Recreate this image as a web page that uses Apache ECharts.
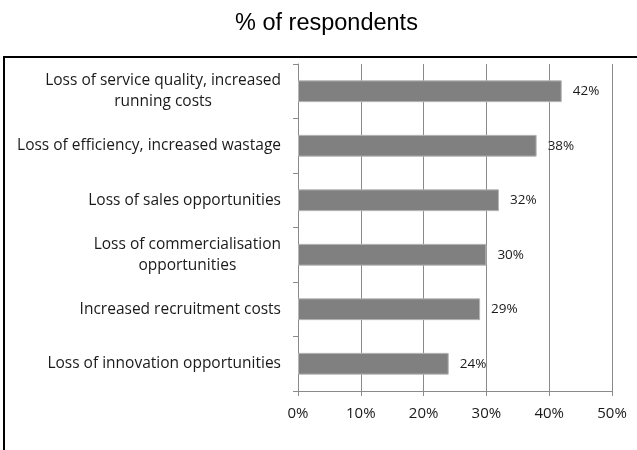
<!DOCTYPE html>
<html>
<head>
<meta charset="utf-8">
<script src="https://cdn.jsdelivr.net/npm/echarts@6/dist/echarts.min.js"></script>
<style>
  html, body { margin: 0; padding: 0; background: #fff; }
  #chart { width: 637px; height: 450px; }
</style>
</head>
<body>
<div id="chart"></div>
<script>
// Reasons reported, top to bottom
const categories = [
  'Loss of service quality, increased\nrunning costs',
  'Loss of efficiency, increased wastage',
  'Loss of sales opportunities',
  'Loss of commercialisation\nopportunities',
  'Increased recruitment costs',
  'Loss of innovation opportunities'
];
// Share of respondents (%)
const shares = [42, 38, 32, 30, 29, 24];
// Value axis range (%)
const axisMin = 0;
const axisMax = 50;
const axisStep = 10;

const labelFont = '"Open Sans", "Noto Sans", sans-serif';
const gridGray = '#8a8a8a';

const chart = echarts.init(document.getElementById('chart'), null, { renderer: 'canvas' });

chart.setOption({
  backgroundColor: '#ffffff',
  animation: false,
  title: {
    text: '% of respondents',
    left: 235,
    top: 12,
    padding: 0,
    textStyle: {
      fontFamily: '"Liberation Sans", Arial, sans-serif',
      fontSize: 23.5,
      fontWeight: 'normal',
      color: '#000'
    }
  },
  graphic: [{
    type: 'polyline',
    shape: { points: [[4, 450], [4, 57], [637, 57]] },
    style: { stroke: '#000', lineWidth: 2, fill: null },
    silent: true
  }],
  grid: { left: 298, right: 25, top: 64, bottom: 59, containLabel: false },
  xAxis: {
    type: 'value',
    min: axisMin,
    max: axisMax,
    interval: axisStep,
    axisLine: { show: true, lineStyle: { color: gridGray, width: 1 } },
    axisTick: { show: true, length: 5, lineStyle: { color: gridGray } },
    splitLine: { show: true, lineStyle: { color: gridGray, width: 1 } },
    axisLabel: {
      formatter: '{value}%',
      margin: 15,
      fontFamily: labelFont,
      fontSize: 15,
      color: '#1a1a1a'
    }
  },
  yAxis: {
    type: 'category',
    data: categories,
    inverse: true,
    axisLine: { show: true, lineStyle: { color: gridGray, width: 1 } },
    axisTick: { show: true, length: 5, lineStyle: { color: gridGray } },
    axisLabel: {
      margin: 17,
      formatter: v => v.split('\n').map(l => '{c|' + l + '}').join('\n'),
      rich: {
        c: {
          align: 'center',
          fontFamily: labelFont,
          fontSize: 15.5,
          lineHeight: 21,
          color: '#1a1a1a'
        }
      }
    }
  },
  series: [{
    type: 'bar',
    data: shares,
    barWidth: '40%',
    itemStyle: { color: '#808080', borderColor: '#b5b5b5', borderWidth: 1 },
    label: {
      show: true,
      position: 'right',
      distance: 11,
      formatter: '{c}%',
      fontFamily: labelFont,
      fontSize: 13.5,
      color: '#1a1a1a'
    }
  }]
});
</script>
</body>
</html>
